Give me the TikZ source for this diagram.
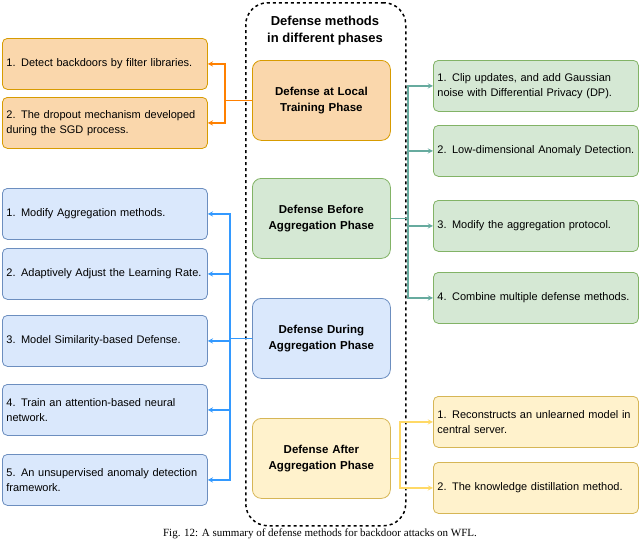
\documentclass[tikz,border=0pt]{standalone}
\usepackage{fontspec}
\setmainfont{Liberation Sans}
\newfontfamily\capfont{Liberation Serif}
\usetikzlibrary{positioning,calc}
\definecolor{orfill}{HTML}{FAD7AC}\definecolor{ordraw}{HTML}{D79B00}\definecolor{orline}{HTML}{FF8000}
\definecolor{grfill}{HTML}{D5E8D4}\definecolor{grdraw}{HTML}{82B366}\definecolor{grline}{HTML}{67AB9F}
\definecolor{blfill}{HTML}{DAE8FC}\definecolor{bldraw}{HTML}{6C8EBF}\definecolor{blline}{HTML}{3399FF}
\definecolor{yefill}{HTML}{FFF2CC}\definecolor{yedraw}{HTML}{D6B656}\definecolor{yeline}{HTML}{FFD966}
\hyphenpenalty=10000
\exhyphenpenalty=10000
\begin{document}
\begin{tikzpicture}[x=1pt,y=-1pt,
    item/.style={draw, line width=0.8pt, rounded corners=5pt, minimum width=205pt, minimum height=51pt, text width=197pt, align=left, anchor=north west, inner sep=3pt, font=\fontsize{11}{15}\selectfont},
    phase/.style={draw, line width=0.8pt, rounded corners=9pt, minimum width=138pt, minimum height=80pt, text width=112pt, align=center, anchor=north west, font=\bfseries\fontsize{11.5}{16}\selectfont},
    link/.style={-stealth, line width=1.3pt}]
  \useasboundingbox (0,0) rectangle (640,539);
  % frame and title
  \node[draw, line width=1.5pt, dashed, rounded corners=22pt, minimum width=160pt, minimum height=523pt, anchor=north west] (frame) at (245,2) {};
  \node[font=\bfseries\fontsize{13}{17}\selectfont, align=center] (title) at (325,31) {Defense methods\\in different phases};
  % phases
  \node[phase, fill=orfill, draw=ordraw] (local) at (252,60) {Defense at Local Training Phase};
  \node[phase, fill=grfill, draw=grdraw] (before) at (252,178) {Defense Before Aggregation Phase};
  \node[phase, fill=blfill, draw=bldraw] (during) at (252,298) {Defense During Aggregation Phase};
  \node[phase, fill=yefill, draw=yedraw] (after) at (252,418) {Defense After Aggregation Phase};
  % left items
  \node[item, fill=orfill, draw=ordraw] (l1) at (2,38) {1. Detect backdoors by filter libraries.};
  \node[item, fill=orfill, draw=ordraw] (l2) at (2,97) {2. The dropout mechanism developed during the SGD process.};
  \node[item, fill=blfill, draw=bldraw] (d1) at (2,188) {1. Modify Aggregation methods.};
  \node[item, fill=blfill, draw=bldraw] (d2) at (2,248) {2. Adaptively Adjust the Learning Rate.};
  \node[item, fill=blfill, draw=bldraw] (d3) at (2,315) {3. Model Similarity-based Defense.};
  \node[item, fill=blfill, draw=bldraw] (d4) at (2,384) {4. Train an attention-based neural network.};
  \node[item, fill=blfill, draw=bldraw] (d5) at (2,454) {5. An unsupervised anomaly detection framework.};
  % right items
  \node[item, fill=grfill, draw=grdraw] (b1) at (433,60) {1. Clip updates, and add Gaussian noise with Differential Privacy (DP).};
  \node[item, fill=grfill, draw=grdraw] (b2) at (433,125) {2. Low-dimensional Anomaly Detection.};
  \node[item, fill=grfill, draw=grdraw] (b3) at (433,200) {3. Modify the aggregation protocol.};
  \node[item, fill=grfill, draw=grdraw] (b4) at (433,272) {4. Combine multiple defense methods.};
  \node[item, fill=yefill, draw=yedraw] (a1) at (433,396) {1. Reconstructs an unlearned model in central server.};
  \node[item, fill=yefill, draw=yedraw] (a2) at (433,462) {2. The knowledge distillation method.};
  % trunks
  \coordinate (tl) at (225,0); \coordinate (td) at (230,0);
  \coordinate (tb) at (408,0); \coordinate (ta) at (400,0);
  % connectors
  \foreach \n in {l1,l2} \draw[link, orline] (local.west) -| (tl |- local.west) |- (\n.east);
  \foreach \n in {d1,d2,d3,d4,d5} \draw[link, blline] (during.west) -| (td |- during.west) |- (\n.east);
  \foreach \n in {b1,b2,b3,b4} \draw[link, grline] (before.east) -| (tb |- before.east) |- (\n.west);
  \foreach \n in {a1,a2} \draw[link, yeline] (after.east) -| (ta |- after.east) |- (\n.west);
  % caption
  \node[font=\capfont\fontsize{11}{13}\selectfont] (caption) at (320,534) {Fig. 12: A summary of defense methods for backdoor attacks on WFL.};
\end{tikzpicture}
\end{document}
